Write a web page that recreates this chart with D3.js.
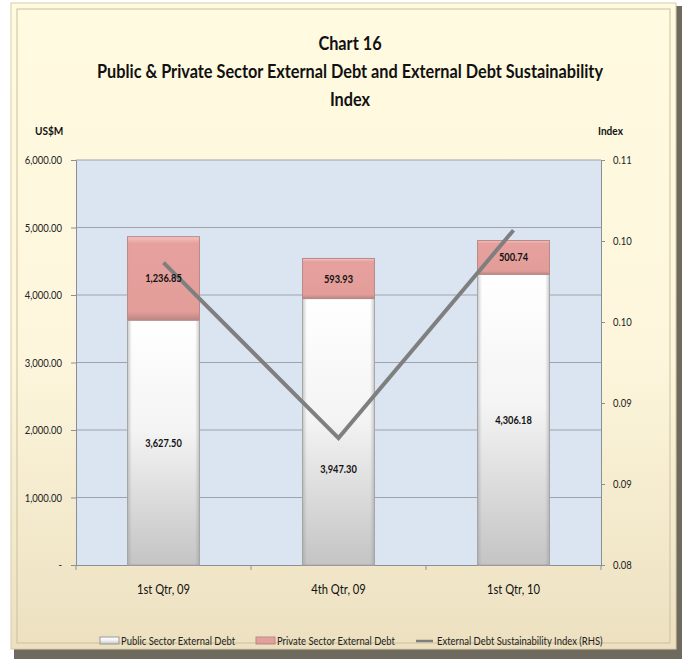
<!DOCTYPE html>
<html>
<head>
<meta charset="utf-8">
<script src="https://cdn.jsdelivr.net/npm/d3@7.9.0/dist/d3.min.js"></script>
<style>
  body { margin: 0; background: #fff; }
  svg text { font-family: Lato, "Open Sans", sans-serif; }
</style>
</head>
<body>
<svg id="chart"></svg>
<script>
const width = 682;
const height = 659;

// data
const categories = ["1st Qtr, 09", "4th Qtr, 09", "1st Qtr, 10"];
const publicDebt = [3627.50, 3947.30, 4306.18];
const privateDebt = [1236.85, 593.93, 500.74];
const sustainIndex = [0.1024, 0.0894, 0.1048];
const leftTicks = [0, 1000, 2000, 3000, 4000, 5000, 6000];
const rightTicks = [0.08, 0.086, 0.092, 0.098, 0.104, 0.11];
const titleLines = ["Chart 16", "Public & Private Sector External Debt and External Debt Sustainability", "Index"];
const legendLabels = ["Public Sector External Debt", "Private Sector External Debt", "External Debt Sustainability  Index (RHS)"];

const svg = d3.select("#chart").attr("width", width).attr("height", height);
const defs = svg.append("defs");

// Calibri-like narrowing of Lato
function narrow(sel, ratio) {
  sel.each(function() {
    const L = this.getComputedTextLength();
    this.setAttribute("textLength", L * ratio);
    this.setAttribute("lengthAdjust", "spacingAndGlyphs");
  });
}

// frame gradient
const fg = defs.append("linearGradient").attr("id", "frameGrad").attr("x1", 0).attr("x2", 0).attr("y1", 0).attr("y2", 1);
fg.append("stop").attr("offset", "0%").attr("stop-color", "#fffae0");
fg.append("stop").attr("offset", "55%").attr("stop-color", "#fdf6dc");
fg.append("stop").attr("offset", "100%").attr("stop-color", "#ece0c0");

const pubGrad = defs.append("linearGradient").attr("id", "pubGrad").attr("x1", 0).attr("x2", 0).attr("y1", 0).attr("y2", 1);
pubGrad.append("stop").attr("offset", "0%").attr("stop-color", "#ffffff");
pubGrad.append("stop").attr("offset", "45%").attr("stop-color", "#f4f4f4");
pubGrad.append("stop").attr("offset", "100%").attr("stop-color", "#c4c4c4");

const pubSide = defs.append("linearGradient").attr("id", "pubSide").attr("x1", 0).attr("x2", 1);
pubSide.append("stop").attr("offset", "0%").attr("stop-color", "#999").attr("stop-opacity", 0.5);
pubSide.append("stop").attr("offset", "6%").attr("stop-color", "#999").attr("stop-opacity", 0);
pubSide.append("stop").attr("offset", "94%").attr("stop-color", "#999").attr("stop-opacity", 0);
pubSide.append("stop").attr("offset", "100%").attr("stop-color", "#999").attr("stop-opacity", 0.5);

const privGrad = defs.append("linearGradient").attr("id", "privGrad").attr("x1", 0).attr("x2", 0).attr("y1", 0).attr("y2", 1);
privGrad.append("stop").attr("offset", "0%").attr("stop-color", "#f6c4c2");
privGrad.append("stop").attr("offset", "8%").attr("stop-color", "#e6a19e");
privGrad.append("stop").attr("offset", "90%").attr("stop-color", "#e39d99");
privGrad.append("stop").attr("offset", "100%").attr("stop-color", "#b98683");

// outer frame
svg.append("rect").attr("x", 14).attr("y", 6).attr("width", 668).attr("height", 653).attr("fill", "#6e6a5e");
svg.append("rect").attr("x", 11).attr("y", 3).attr("width", 665).attr("height", 646).attr("fill", "url(#frameGrad)").attr("stroke", "#d8ccaa").attr("stroke-width", 1);
svg.append("rect").attr("x", 17).attr("y", 9).attr("width", 653).attr("height", 634).attr("fill", "none").attr("stroke", "#cdbf9c").attr("stroke-width", 1);

// title
const titles = svg.append("g").selectAll("text").data(titleLines).join("text")
  .attr("x", 350).attr("y", (d, i) => 50 + i * 28)
  .attr("text-anchor", "middle")
  .style("font-size", "18px").style("font-weight", "bold").style("fill", "#111")
  .text(d => d);
const titleRatio = 506 / titles.nodes()[1].getComputedTextLength();
narrow(titles, titleRatio);

const margin = { left: 76, right: 601, top: 160, bottom: 565 };

const x = d3.scaleBand().domain(categories).range([margin.left, margin.right]).paddingInner(0.589).paddingOuter(0.2945);
const y = d3.scaleLinear().domain([0, 6000]).range([margin.bottom, margin.top]);
const y2 = d3.scaleLinear().domain([0.08, 0.11]).range([margin.bottom, margin.top]);
const xc = d3.scalePoint().domain(categories).range([margin.left, margin.right]).padding(0.5);

// plot area
svg.append("rect").attr("x", margin.left).attr("y", margin.top)
  .attr("width", margin.right - margin.left).attr("height", margin.bottom - margin.top)
  .attr("fill", "#dbe5f1");

// gridlines
svg.append("g").selectAll("line").data(leftTicks.slice(1)).join("line")
  .attr("x1", margin.left).attr("x2", margin.right)
  .attr("y1", d => y(d)).attr("y2", d => y(d))
  .attr("stroke", "#9ea3ab").attr("stroke-width", 1);

// left axis
const leftAxis = d3.axisLeft(y).tickValues(leftTicks).tickSize(5).tickPadding(9)
  .tickFormat(d => d === 0 ? "-" : d3.format(",.2f")(d));
const gl = svg.append("g").attr("transform", `translate(${margin.left},0)`).call(leftAxis);
gl.select(".domain").attr("stroke", "#8a8f96");
gl.selectAll(".tick line").attr("stroke", "#8a8f96");
gl.selectAll("text").style("font-size", "11px").style("fill", "#222").style("font-family", "Lato, sans-serif");
narrow(gl.selectAll("text"), 0.86);

// right axis
const rightAxis = d3.axisRight(y2).tickValues(rightTicks).tickSize(4).tickPadding(8).tickFormat(d3.format(".2f"));
const gr = svg.append("g").attr("transform", `translate(${margin.right},0)`).call(rightAxis);
gr.select(".domain").attr("stroke", "#8a8f96");
gr.selectAll(".tick line").attr("stroke", "#8a8f96");
gr.selectAll("text").style("font-size", "11px").style("fill", "#222").style("font-family", "Lato, sans-serif");
narrow(gr.selectAll("text"), 0.86);

// bottom axis
const bottomAxis = d3.axisBottom(x).tickSize(0).tickPadding(20);
const gb = svg.append("g").attr("transform", `translate(0,${margin.bottom})`).call(bottomAxis);
gb.select(".domain").attr("stroke", "#8a8f96");
gb.selectAll("text").style("font-size", "13px").style("fill", "#111").style("font-family", "Lato, sans-serif");
narrow(gb.selectAll("text"), 0.86);
// category separator ticks
const seps = d3.range(categories.length + 1).map(i => margin.left + i * x.step());
gb.selectAll("line.sep").data(seps).join("line").attr("class", "sep")
  .attr("x1", d => d).attr("x2", d => d).attr("y1", 0).attr("y2", 5).attr("stroke", "#8a8f96");

// bars
const bars = svg.append("g");
const labels = [];
categories.forEach((c, i) => {
  const bx = x(c), bw = x.bandwidth();
  const yPubTop = y(publicDebt[i]);
  const yPrivTop = y(publicDebt[i] + privateDebt[i]);
  bars.append("rect").attr("x", bx).attr("y", yPubTop).attr("width", bw).attr("height", y(0) - yPubTop)
    .attr("fill", "url(#pubGrad)").attr("stroke", "#a8a8a8").attr("stroke-width", 1);
  bars.append("rect").attr("x", bx).attr("y", yPubTop).attr("width", bw).attr("height", y(0) - yPubTop)
    .attr("fill", "url(#pubSide)");
  bars.append("rect").attr("x", bx).attr("y", yPrivTop).attr("width", bw).attr("height", yPubTop - yPrivTop)
    .attr("fill", "url(#privGrad)").attr("stroke", "#b88a87").attr("stroke-width", 1);
  // public label sits mid-segment unless the index line vertex is there
  let pubY = (yPubTop + y(0)) / 2;
  const vY = y2(sustainIndex[i]);
  if (Math.abs(pubY - vY) < 22) pubY = vY + 31;
  labels.push({ x: bx + bw / 2, y: pubY, t: d3.format(",.2f")(publicDebt[i]) });
  labels.push({ x: bx + bw / 2, y: (yPrivTop + yPubTop) / 2, t: d3.format(",.2f")(privateDebt[i]) });
});

// index line
const line = d3.line().x((d, i) => xc(categories[i])).y(d => y2(d));
svg.append("path").datum(sustainIndex).attr("d", line)
  .attr("fill", "none").attr("stroke", "#7f7f7f").attr("stroke-width", 4).attr("stroke-linejoin", "miter");

const lbl = svg.append("g").selectAll("text").data(labels).join("text")
  .attr("x", d => d.x).attr("y", d => d.y + 4)
  .attr("text-anchor", "middle").style("font-size", "11px").style("font-weight", "bold").style("fill", "#111")
  .text(d => d.t);
narrow(lbl, 0.84);

// axis titles
const at = svg.append("g");
at.append("text").attr("x", 35).attr("y", 135).style("font-size", "12px").style("font-weight", "bold").style("fill", "#111").text("US$M");
at.append("text").attr("x", 598).attr("y", 135).style("font-size", "12px").style("font-weight", "bold").style("fill", "#111").text("Index");
narrow(at.selectAll("text"), 0.84);

// legend
const lg = svg.append("g").attr("transform", "translate(0,641)");
lg.append("rect").attr("x", 100).attr("y", -4).attr("width", 19).attr("height", 7).attr("fill", "url(#pubGrad)").attr("stroke", "#999");
lg.append("rect").attr("x", 256).attr("y", -4).attr("width", 19).attr("height", 7).attr("fill", "url(#privGrad)").attr("stroke", "#b88a87");
lg.append("line").attr("x1", 416).attr("x2", 433).attr("y1", 0).attr("y2", 0).attr("stroke", "#7f7f7f").attr("stroke-width", 2.5);
const lx = [121, 277, 437];
const lt = lg.selectAll("text").data(legendLabels).join("text")
  .attr("x", (d, i) => lx[i]).attr("y", 4)
  .style("font-size", "11px").style("fill", "#222")
  .text(d => d);
narrow(lt, 0.86);
</script>
</body>
</html>
